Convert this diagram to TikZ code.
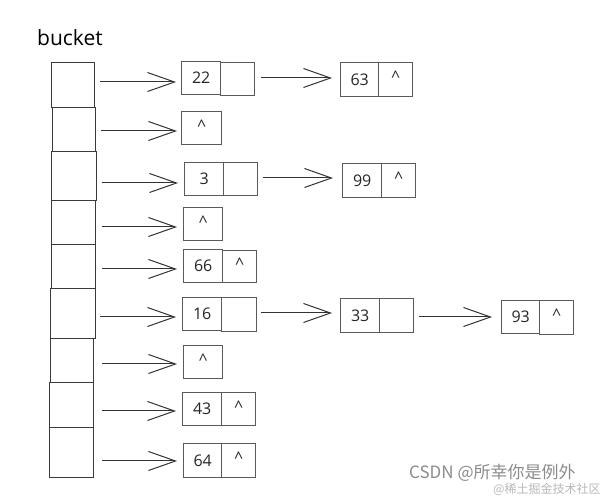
\documentclass[tikz,border=0pt]{standalone}
\usepackage{fontspec}
\setmainfont{Open Sans}
\newfontfamily\cjkfont{Noto Sans CJK SC}
\usetikzlibrary{arrows.meta}
\definecolor{boxc}{HTML}{5A5A5A}
\definecolor{bukc}{HTML}{3A3A3A}
\definecolor{arrc}{HTML}{333333}
\definecolor{wm}{HTML}{8C8C8C}
\definecolor{wmlight}{HTML}{B8B8B8}
\tikzset{
  cell/.style={draw=boxc, line width=1.3pt, anchor=north west, inner sep=0pt,
    font=\fontsize{16}{16}\selectfont, text=black!85},
  bukbox/.style={draw=bukc, line width=1.3pt, anchor=north west, inner sep=0pt},
  arr/.style={draw=arrc, line width=1pt,
    -{Straight Barb[length=27pt,width=19pt,line width=1pt]}},
}
\begin{document}
\begin{tikzpicture}[x=1pt,y=-1pt]
\useasboundingbox[fill=white] (0,0) rectangle (614,497);
% label
\node[anchor=base west, inner sep=0pt, font=\fontsize{21}{21}\selectfont] (lbl) at (37,46) {bucket};
% bucket column
\node[bukbox, minimum width=43pt, minimum height=45pt] (b1) at (51,62) {};
\node[bukbox, minimum width=43pt, minimum height=44pt] (b2) at (52,107) {};
\node[bukbox, minimum width=45pt, minimum height=49pt] (b3) at (51,151) {};
\node[bukbox, minimum width=44pt, minimum height=44pt] (b4) at (51,200) {};
\node[bukbox, minimum width=44pt, minimum height=44pt] (b5) at (51,244) {};
\node[bukbox, minimum width=45pt, minimum height=50pt] (b6) at (50,288) {};
\node[bukbox, minimum width=43pt, minimum height=44pt] (b7) at (50,338) {};
\node[bukbox, minimum width=44pt, minimum height=45pt] (b8) at (49,382) {};
\node[bukbox, minimum width=44pt, minimum height=50pt] (b9) at (49,427) {};
% row 1
\node[cell, minimum width=39pt, minimum height=33pt] (v1) at (181,61) {22};
\node[cell, minimum width=34pt, minimum height=33pt] (n1) at (220,62) {};
\node[cell, minimum width=38pt, minimum height=34pt] (v1b) at (340,62) {63};
\node[cell, minimum width=34pt, minimum height=34pt] (n1b) at (378,62) {\raisebox{5pt}{\textasciicircum}};
% row 2
\node[cell, minimum width=40pt, minimum height=33pt] (v2) at (181,111) {\raisebox{5pt}{\textasciicircum}};
% row 3
\node[cell, minimum width=39pt, minimum height=33pt] (v3) at (184,162) {3};
\node[cell, minimum width=34pt, minimum height=33pt] (n3) at (223,162) {};
\node[cell, minimum width=39pt, minimum height=34pt] (v3b) at (342,163) {99};
\node[cell, minimum width=34pt, minimum height=34pt] (n3b) at (381,163) {\raisebox{5pt}{\textasciicircum}};
% row 4
\node[cell, minimum width=39pt, minimum height=33pt] (v4) at (183,207) {\raisebox{5pt}{\textasciicircum}};
% row 5
\node[cell, minimum width=39pt, minimum height=33pt] (v5) at (183,249) {66};
\node[cell, minimum width=34pt, minimum height=32pt] (n5) at (222,250) {\raisebox{5pt}{\textasciicircum}};
% row 6
\node[cell, minimum width=39pt, minimum height=33pt] (v6) at (182,297) {16};
\node[cell, minimum width=35pt, minimum height=34pt] (n6) at (221,297) {};
\node[cell, minimum width=39pt, minimum height=34pt] (v6b) at (340,298) {33};
\node[cell, minimum width=34pt, minimum height=34pt] (n6b) at (379,298) {};
\node[cell, minimum width=38pt, minimum height=33pt] (v6c) at (501,300) {93};
\node[cell, minimum width=34pt, minimum height=34pt] (n6c) at (539,300) {\raisebox{5pt}{\textasciicircum}};
% row 7
\node[cell, minimum width=39pt, minimum height=33pt] (v7) at (183,345) {\raisebox{5pt}{\textasciicircum}};
% row 8
\node[cell, minimum width=39pt, minimum height=33pt] (v8) at (182,392) {43};
\node[cell, minimum width=34pt, minimum height=33pt] (n8) at (221,392) {\raisebox{5pt}{\textasciicircum}};
% row 9
\node[cell, minimum width=38pt, minimum height=34pt] (v9) at (183,443) {64};
\node[cell, minimum width=34pt, minimum height=34pt] (n9) at (221,443) {\raisebox{5pt}{\textasciicircum}};
% arrows from buckets
\draw[arr] ([xshift=5pt]b1.east |- 0,82) -- ([xshift=-5pt]v1.west |- 0,82);
\draw[arr] ([xshift=5pt]b2.east |- 0,131) -- ([xshift=-4pt]v2.west |- 0,131);
\draw[arr] ([xshift=5pt]b3.east |- 0,183) -- ([xshift=-6pt]v3.west |- 0,183);
\draw[arr] ([xshift=6pt]b4.east |- 0,227) -- ([xshift=-6pt]v4.west |- 0,227);
\draw[arr] ([xshift=6pt]b5.east |- 0,269) -- ([xshift=-6pt]v5.west |- 0,269);
\draw[arr] ([xshift=4pt]b6.east |- 0,317) -- ([xshift=-6pt]v6.west |- 0,317);
\draw[arr] ([xshift=8pt]b7.east |- 0,364) -- ([xshift=-6pt]v7.west |- 0,364);
\draw[arr] ([xshift=8pt]b8.east |- 0,411) -- ([xshift=-6pt]v8.west |- 0,411);
\draw[arr] ([xshift=8pt]b9.east |- 0,461) -- ([xshift=-6pt]v9.west |- 0,461);
% chain arrows
\draw[arr] ([xshift=6pt]n1.east |- 0,78) -- ([xshift=-8pt]v1b.west |- 0,78);
\draw[arr] ([xshift=5pt]n3.east |- 0,178) -- ([xshift=-9pt]v3b.west |- 0,178);
\draw[arr] ([xshift=4pt]n6.east |- 0,313) -- ([xshift=-8pt]v6b.west |- 0,313);
\draw[arr] ([xshift=5pt]n6b.east |- 0,317) -- ([xshift=-9pt]v6c.west |- 0,317);
% watermark
\node[anchor=west, inner sep=0pt, text=wm, font=\cjkfont\fontsize{17}{17}\selectfont] (wm1) at (409,473) {CSDN @所幸你是例外};
\node[anchor=west, inner sep=0pt, text=wmlight, font=\cjkfont\fontsize{12}{12}\selectfont] (wm2) at (493,489) {@稀土掘金技术社区};
\end{tikzpicture}
\end{document}
